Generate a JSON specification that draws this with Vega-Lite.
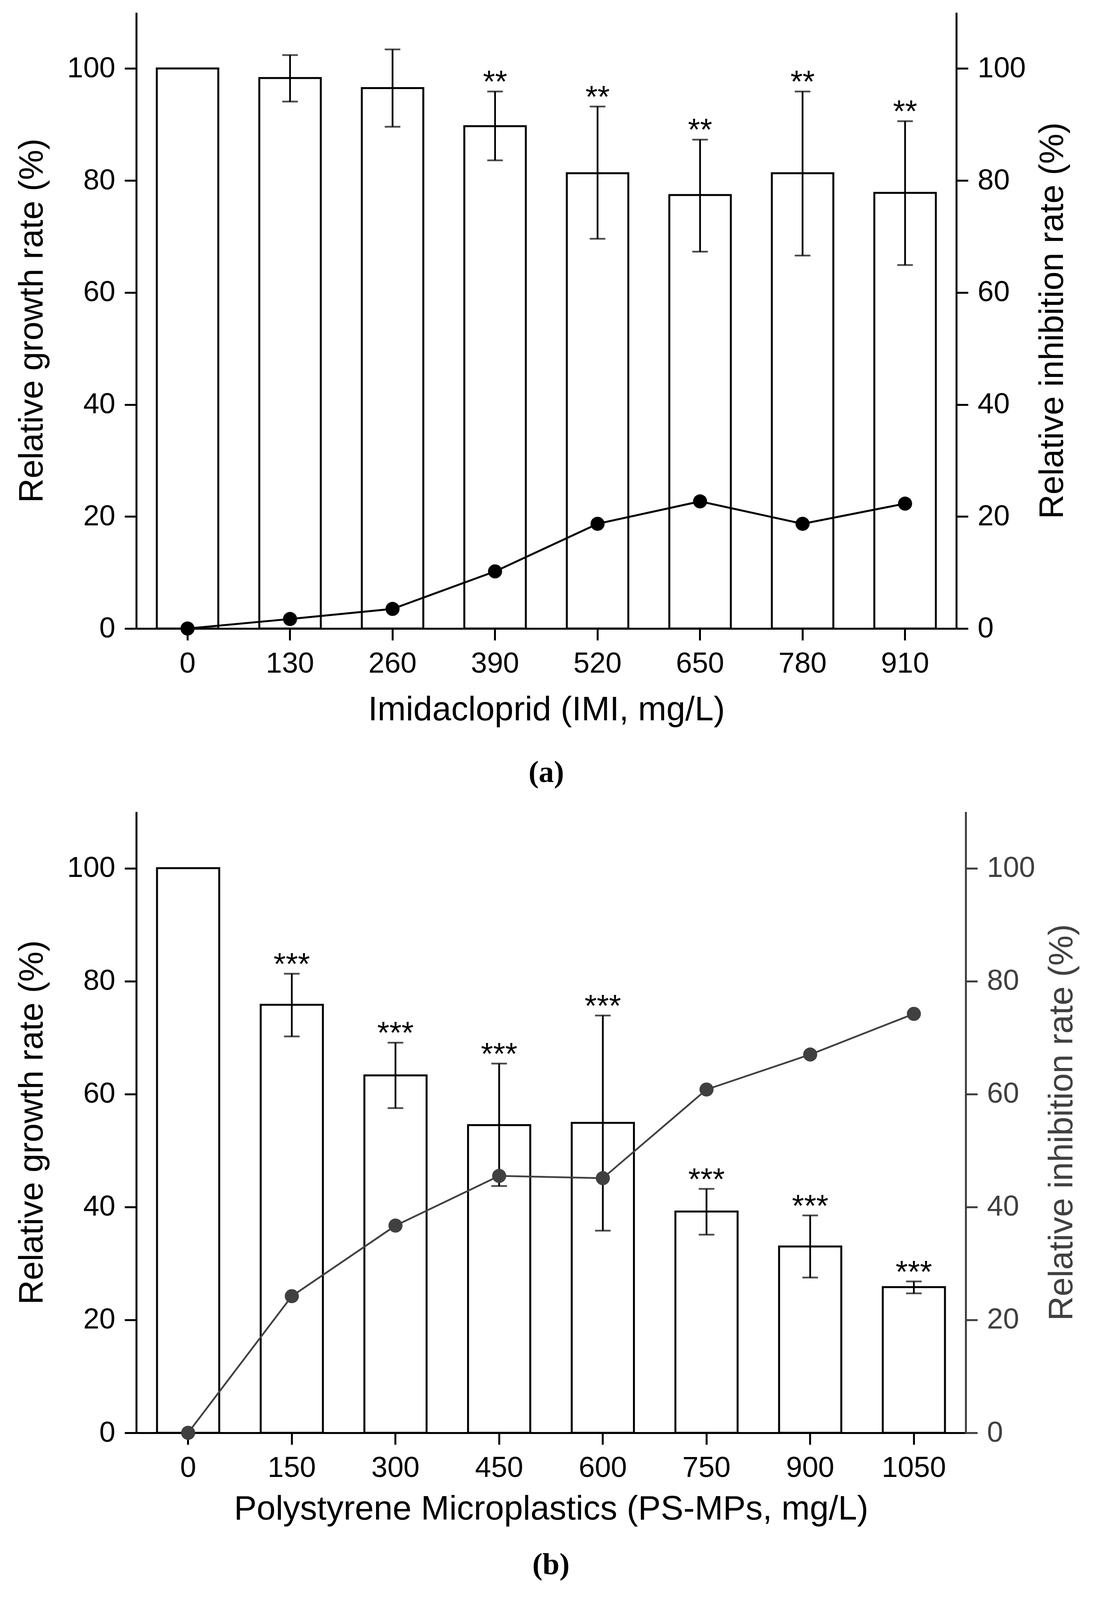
{
  "$schema": "https://vega.github.io/schema/vega-lite/v6.json",
  "background": "white",
  "padding": {"left": 38, "top": 32, "right": 20, "bottom": 10},
  "spacing": 60,
  "config": {
    "view": {"stroke": null},
    "font": "Liberation Sans",
    "axis": {
      "grid": false,
      "domainColor": "black",
      "domainWidth": 5,
      "tickColor": "black",
      "tickWidth": 5,
      "tickSize": 30,
      "labelFont": "Liberation Sans",
      "labelFontSize": 74,
      "labelColor": "black",
      "labelPadding": 24,
      "titleFont": "Liberation Sans",
      "titleFontSize": 87,
      "titleFontWeight": "normal",
      "titleColor": "black",
      "titlePadding": 45
    },
    "title": {"font": "Liberation Serif", "fontSize": 78, "fontWeight": "bold", "color": "black", "orient": "bottom"}
  },
  "datasets": {
    "imi": [
      {"dose": "0", "growth": 100, "lo": null, "hi": null, "sig": "", "inhib": 0},
      {"dose": "130", "growth": 98.3, "lo": 94.1, "hi": 102.4, "sig": "", "inhib": 1.7},
      {"dose": "260", "growth": 96.5, "lo": 89.6, "hi": 103.4, "sig": "", "inhib": 3.5},
      {"dose": "390", "growth": 89.7, "lo": 83.6, "hi": 95.9, "sig": "**", "inhib": 10.2},
      {"dose": "520", "growth": 81.3, "lo": 69.6, "hi": 93.2, "sig": "**", "inhib": 18.7},
      {"dose": "650", "growth": 77.4, "lo": 67.3, "hi": 87.3, "sig": "**", "inhib": 22.7},
      {"dose": "780", "growth": 81.3, "lo": 66.6, "hi": 95.9, "sig": "**", "inhib": 18.7},
      {"dose": "910", "growth": 77.8, "lo": 64.9, "hi": 90.6, "sig": "**", "inhib": 22.3}
    ],
    "ps": [
      {"dose": "0", "growth": 100, "lo": null, "hi": null, "sig": "", "inhib": 0},
      {"dose": "150", "growth": 75.8, "lo": 70.2, "hi": 81.3, "sig": "***", "inhib": 24.2},
      {"dose": "300", "growth": 63.3, "lo": 57.5, "hi": 69.1, "sig": "***", "inhib": 36.7},
      {"dose": "450", "growth": 54.5, "lo": 43.7, "hi": 65.4, "sig": "***", "inhib": 45.5},
      {"dose": "600", "growth": 54.9, "lo": 35.8, "hi": 73.9, "sig": "***", "inhib": 45.1},
      {"dose": "750", "growth": 39.2, "lo": 35.1, "hi": 43.2, "sig": "***", "inhib": 60.8},
      {"dose": "900", "growth": 33.0, "lo": 27.5, "hi": 38.5, "sig": "***", "inhib": 67.0},
      {"dose": "1050", "growth": 25.8, "lo": 24.7, "hi": 26.8, "sig": "***", "inhib": 74.2}
    ]
  },
  "vconcat": [
    {
      "width": 2100,
      "height": 1577,
      "data": {"name": "imi"},
      "title": {"text": "(a)", "offset": 80},
      "encoding": {
        "x": {
          "field": "dose",
          "type": "ordinal",
          "sort": null,
          "scale": {"paddingInner": 0.4, "paddingOuter": 0.2},
          "axis": {"title": "Imidacloprid (IMI, mg/L)", "labelAngle": 0, "titlePadding": 38}
        }
      },
      "layer": [
        {
          "encoding": {
            "y": {
              "type": "quantitative",
              "scale": {"domain": [0, 110], "nice": false},
              "axis": {"title": "Relative growth rate (%)", "values": [0, 20, 40, 60, 80, 100], "titleAngle": -90}
            }
          },
          "layer": [
            {
              "mark": {"type": "bar", "fill": "white", "stroke": "black", "strokeWidth": 5},
              "encoding": {"y": {"field": "growth", "type": "quantitative", "title": "Relative growth rate (%)"}}
            },
            {
              "transform": [{"filter": "datum.hi != null"}],
              "mark": {"type": "rule", "color": "black", "strokeWidth": 4.5},
              "encoding": {"y": {"field": "lo", "type": "quantitative", "title": "Relative growth rate (%)"}, "y2": {"field": "hi"}}
            },
            {
              "transform": [{"filter": "datum.hi != null"}],
              "mark": {"type": "tick", "color": "black", "thickness": 4.5, "size": 40},
              "encoding": {"y": {"field": "hi", "type": "quantitative", "title": "Relative growth rate (%)"}}
            },
            {
              "transform": [{"filter": "datum.hi != null"}],
              "mark": {"type": "tick", "color": "black", "thickness": 4.5, "size": 40},
              "encoding": {"y": {"field": "lo", "type": "quantitative", "title": "Relative growth rate (%)"}}
            },
            {
              "transform": [{"filter": "datum.hi != null"}],
              "mark": {"type": "text", "baseline": "alphabetic", "fontSize": 80, "color": "black", "font": "Liberation Sans", "dy": 2},
              "encoding": {"y": {"field": "hi", "type": "quantitative", "title": "Relative growth rate (%)"}, "text": {"field": "sig"}}
            }
          ]
        },
        {
          "mark": {"type": "line", "color": "black", "strokeWidth": 5, "point": {"filled": true, "size": 1300, "color": "black"}},
          "encoding": {
            "y": {
              "field": "inhib",
              "type": "quantitative",
              "scale": {"domain": [0, 110], "nice": false},
              "axis": {"orient": "right", "title": "Relative inhibition rate (%)", "values": [0, 20, 40, 60, 80, 100], "titleAngle": -90, "titleBaseline": "top", "titlePadding": 26}
            }
          }
        }
      ],
      "resolve": {"scale": {"y": "independent"}, "axis": {"y": "independent"}}
    },
    {
      "width": 2124,
      "height": 1590,
      "data": {"name": "ps"},
      "title": {"text": "(b)", "offset": 62},
      "encoding": {
        "x": {
          "field": "dose",
          "type": "ordinal",
          "sort": null,
          "scale": {"paddingInner": 0.4, "paddingOuter": 0.2},
          "axis": {"title": "Polystyrene Microplastics (PS-MPs, mg/L)", "labelAngle": 0, "titlePadding": 25}
        }
      },
      "layer": [
        {
          "encoding": {
            "y": {
              "type": "quantitative",
              "scale": {"domain": [0, 110], "nice": false},
              "axis": {"title": "Relative growth rate (%)", "values": [0, 20, 40, 60, 80, 100], "titleAngle": -90}
            }
          },
          "layer": [
            {
              "mark": {"type": "bar", "fill": "white", "stroke": "black", "strokeWidth": 5},
              "encoding": {"y": {"field": "growth", "type": "quantitative", "title": "Relative growth rate (%)"}}
            },
            {
              "transform": [{"filter": "datum.hi != null"}],
              "mark": {"type": "rule", "color": "black", "strokeWidth": 4.5},
              "encoding": {"y": {"field": "lo", "type": "quantitative", "title": "Relative growth rate (%)"}, "y2": {"field": "hi"}}
            },
            {
              "transform": [{"filter": "datum.hi != null"}],
              "mark": {"type": "tick", "color": "black", "thickness": 4.5, "size": 40},
              "encoding": {"y": {"field": "hi", "type": "quantitative", "title": "Relative growth rate (%)"}}
            },
            {
              "transform": [{"filter": "datum.hi != null"}],
              "mark": {"type": "tick", "color": "black", "thickness": 4.5, "size": 40},
              "encoding": {"y": {"field": "lo", "type": "quantitative", "title": "Relative growth rate (%)"}}
            },
            {
              "transform": [{"filter": "datum.hi != null"}],
              "mark": {"type": "text", "baseline": "alphabetic", "fontSize": 80, "color": "black", "font": "Liberation Sans", "dy": 2},
              "encoding": {"y": {"field": "hi", "type": "quantitative", "title": "Relative growth rate (%)"}, "text": {"field": "sig"}}
            }
          ]
        },
        {
          "mark": {"type": "line", "color": "#404040", "strokeWidth": 4.5, "point": {"filled": true, "size": 1300, "color": "#404040"}},
          "encoding": {
            "y": {
              "field": "inhib",
              "type": "quantitative",
              "scale": {"domain": [0, 110], "nice": false},
              "axis": {
                "orient": "right",
                "title": "Relative inhibition rate (%)",
                "values": [0, 20, 40, 60, 80, 100],
                "titleAngle": -90,
                "titleBaseline": "top",
                "titlePadding": 26,
                "domainColor": "#404040",
                "tickColor": "#404040",
                "labelColor": "#404040",
                "titleColor": "#404040"
              }
            }
          }
        }
      ],
      "resolve": {"scale": {"y": "independent"}, "axis": {"y": "independent"}}
    }
  ]
}
